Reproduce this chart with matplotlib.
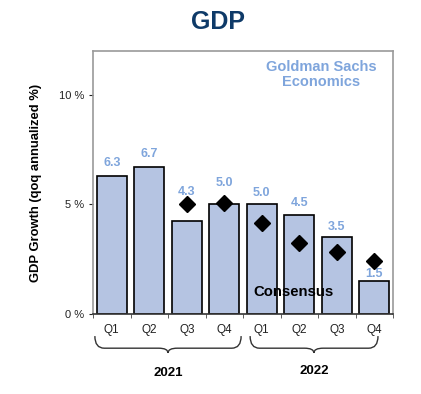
import matplotlib
matplotlib.use('Agg')
import matplotlib.pyplot as plt
import matplotlib.transforms as mtransforms
from matplotlib.path import Path
from matplotlib.patches import PathPatch

quarters = ['Q1', 'Q2', 'Q3', 'Q4', 'Q1', 'Q2', 'Q3', 'Q4']
gs_forecast = [6.3, 6.7, 4.25, 5.0, 5.0, 4.5, 3.5, 1.5]
gs_labels = ['6.3', '6.7', '4.3', '5.0', '5.0', '4.5', '3.5', '1.5']
consensus_idx = [2, 3, 4, 5, 6, 7]
consensus = [5.0, 5.08, 4.15, 3.25, 2.85, 2.4]
years = ['2021', '2022']

plt.rcParams['font.family'] = ['Liberation Sans', 'DejaVu Sans']

BAR_COLOR = '#b5c4e2'
LABEL_BLUE = '#7fa5dc'
TITLE_BLUE = '#0e3a68'

# gap between bar top and its label (bigger where a diamond sits above)
label_gap = [0.6, 0.6, 1.3, 1.0, 0.5, 0.55, 0.47, 0.32]


def brace(ax, x0, x1, xm, yt, yb, ytip, trans):
    r = 0.25
    verts = [(x0, yt), (x0, yb), (x0 + r, yb),
             (xm - r, yb),
             (xm, yb), (xm, ytip),
             (xm, yb), (xm + r, yb),
             (x1 - r, yb),
             (x1, yb), (x1, yt)]
    codes = [Path.MOVETO, Path.CURVE3, Path.CURVE3,
             Path.LINETO,
             Path.CURVE3, Path.CURVE3,
             Path.CURVE3, Path.CURVE3,
             Path.LINETO,
             Path.CURVE3, Path.CURVE3]
    patch = PathPatch(Path(verts, codes), transform=trans, fill=False,
                      lw=1.0, edgecolor='#333333', clip_on=False)
    ax.add_patch(patch)


def main():
    fig = plt.figure(figsize=(4.21, 3.94), dpi=100)
    ax = fig.add_axes([93 / 421, 80 / 394, 300 / 421, 263 / 394])

    x = list(range(len(quarters)))
    ax.bar(x, gs_forecast, width=0.8, color=BAR_COLOR, edgecolor='black',
           linewidth=1.2, zorder=2)
    for xi, v, lab, g in zip(x, gs_forecast, gs_labels, label_gap):
        ax.text(xi, v + g, lab, ha='center', va='center', fontsize=9,
                fontweight='bold', color=LABEL_BLUE)
    ax.plot(consensus_idx, consensus, linestyle='none', marker='D',
            markersize=8, color='black', zorder=3)

    ax.set_xlim(-0.5, 7.5)
    ax.set_ylim(0, 12)
    ax.set_yticks([0, 5, 10])
    ax.set_yticklabels(['0 %', '5 %', '10 %'])
    ax.set_xticks(x)
    ax.set_xticklabels(quarters)
    ax.set_xticks([i + 0.5 for i in range(-1, 8)], minor=True)
    ax.tick_params(axis='x', which='major', length=0, pad=7, labelsize=8.5,
                   colors='#222222')
    ax.tick_params(axis='x', which='minor', length=3, direction='out',
                   color='#444444')
    ax.tick_params(axis='y', length=3, direction='out', labelsize=8,
                   colors='#222222')

    for s in ['top', 'right', 'left']:
        ax.spines[s].set_color('#9a9a9a')
        ax.spines[s].set_linewidth(1.2)
    ax.spines['bottom'].set_color('#333333')
    ax.spines['bottom'].set_linewidth(1.2)

    ax.set_ylabel('GDP Growth (qoq annualized %)', fontsize=9.4,
                  fontweight='bold', labelpad=12)

    ax.text(5.58, 11.6, 'Goldman Sachs\nEconomics', ha='center', va='top',
            fontsize=10.5, fontweight='bold', color=LABEL_BLUE,
            linespacing=1.1)
    ax.text(4.86, 1.0, 'Consensus', ha='center', va='center', fontsize=10.7,
            fontweight='bold', color='black', zorder=4)

    trans = mtransforms.blended_transform_factory(ax.transData, ax.transAxes)
    brace(ax, -0.45, 3.45, 1.5, -0.084, -0.13, -0.148, trans)
    brace(ax, 3.69, 7.1, 5.39, -0.084, -0.13, -0.148, trans)
    ax.text(1.5, -0.224, years[0], transform=trans, ha='center', va='center',
            fontsize=9.5, fontweight='bold')
    ax.text(5.39, -0.217, years[1], transform=trans, ha='center', va='center',
            fontsize=9.5, fontweight='bold')

    fig.text(218 / 421, 1 - 22 / 394, 'GDP', ha='center', va='center',
             fontsize=18, fontweight='bold', color=TITLE_BLUE,
             family=['Liberation Sans Narrow', 'Liberation Sans'])

    fig.savefig('out.png', dpi=100)


if __name__ == '__main__':
    main()
